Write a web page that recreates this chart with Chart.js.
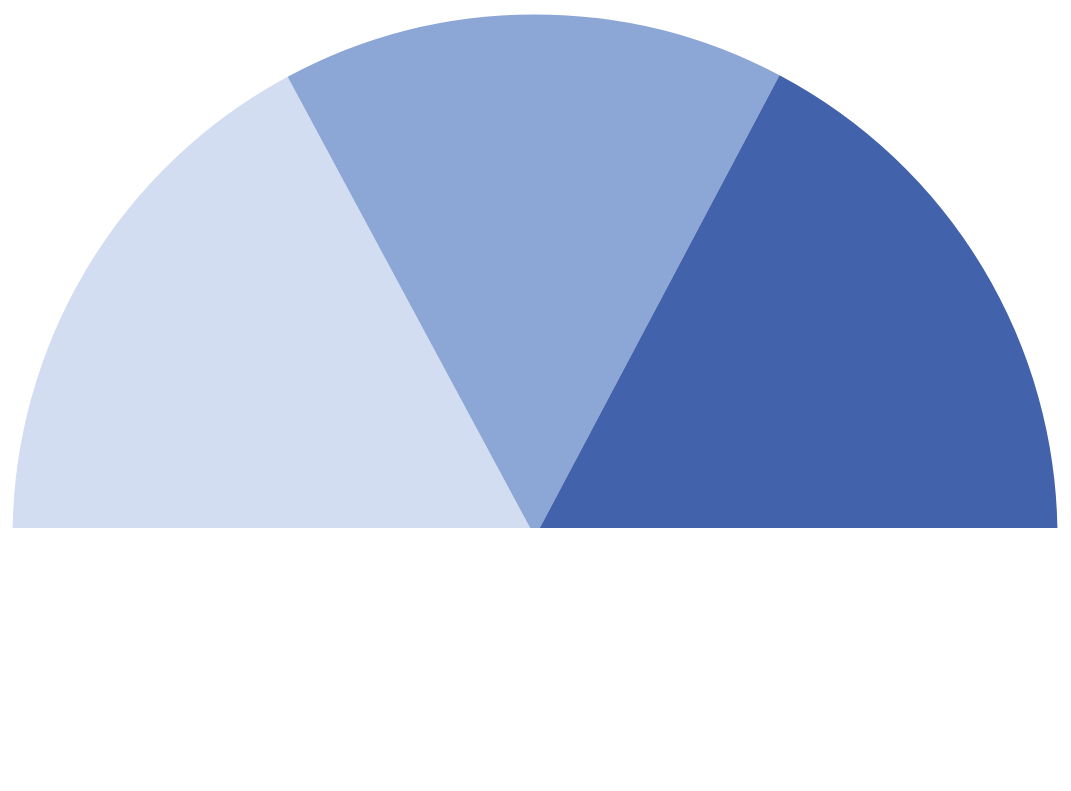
<!DOCTYPE html>
<html>
<head>
<meta charset="utf-8">
<title>Half pie</title>
<script src="https://cdn.jsdelivr.net/npm/chart.js@4/dist/chart.umd.min.js"></script>
<style>
    html, body { margin: 0; padding: 0; background: #ffffff; }
    #wrap { width: 1071px; height: 791px; position: relative; }
</style>
</head>
<body>
<div id="wrap"><canvas id="gauge"></canvas></div>
<script>
// slice values (share of the half circle)
const categories = ['Low', 'Medium', 'High'];
const values = [34.3, 31.2, 34.5];
const sliceColors = ['#d2ddf1', '#8ca6d6', '#4263ab'];

document.addEventListener('DOMContentLoaded', function() {
    const ctx = document.getElementById('gauge').getContext('2d');

    new Chart(ctx, {
        type: 'pie',
        data: {
            labels: categories,
            datasets: [{
                data: values,
                backgroundColor: sliceColors,
                borderWidth: 0,
                // the flat bottom edge sits a little above the centre of the pie
                clip: { left: false, top: false, right: false, bottom: 0 }
            }]
        },
        options: {
            responsive: true,
            maintainAspectRatio: false,
            animation: false,
            rotation: -90,
            circumference: 180,
            radius: 522.5,
            layout: {
                padding: { left: 0, right: 1, top: 23.5, bottom: 263 }
            },
            plugins: {
                legend: { display: false },
                tooltip: { enabled: false }
            }
        }
    });
});
</script>
</body>
</html>
